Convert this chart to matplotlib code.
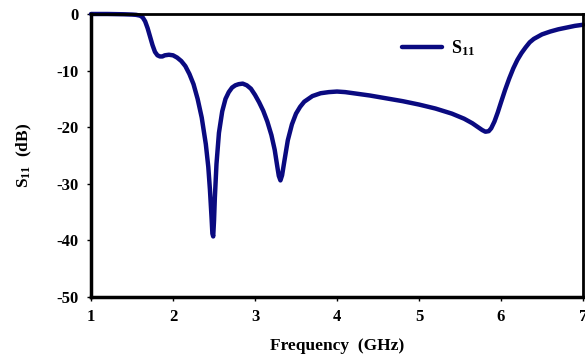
import matplotlib
matplotlib.use('Agg')
import matplotlib.pyplot as plt

# S11 readings (GHz, dB)
freq = [1.0, 1.2, 1.4, 1.5, 1.55, 1.6, 1.63, 1.66, 1.69, 1.72, 1.75, 1.78,
        1.81, 1.84, 1.87, 1.9, 1.95, 2.0, 2.05, 2.1, 2.15, 2.2, 2.25, 2.3,
        2.35, 2.4, 2.43, 2.45, 2.47, 2.48, 2.49, 2.5, 2.51, 2.53, 2.56, 2.6,
        2.64, 2.68, 2.72, 2.76, 2.8, 2.85, 2.9, 2.95, 3.0, 3.05, 3.1, 3.15,
        3.2, 3.24, 3.27, 3.29, 3.31, 3.33, 3.36, 3.4, 3.45, 3.5, 3.55, 3.6,
        3.7, 3.8, 3.9, 4.0, 4.1, 4.2, 4.4, 4.6, 4.8, 5.0, 5.2, 5.4, 5.55,
        5.65, 5.72, 5.77, 5.81, 5.85, 5.88, 5.92, 5.96, 6.0, 6.05, 6.1, 6.15,
        6.2, 6.25, 6.3, 6.35, 6.4, 6.5, 6.6, 6.7, 6.8, 6.9, 7.0]
s11 = [0.0, 0.0, -0.05, -0.1, -0.15, -0.3, -0.6, -1.3, -2.5, -4.0, -5.5,
       -6.7, -7.3, -7.5, -7.5, -7.3, -7.2, -7.3, -7.7, -8.3, -9.2, -10.6,
       -12.4, -15.0, -18.3, -23.0, -27.0, -31.0, -36.0, -38.8, -39.3, -36.5,
       -32.5, -26.5, -21.0, -17.2, -15.0, -13.8, -13.0, -12.6, -12.4, -12.3,
       -12.6, -13.2, -14.3, -15.6, -17.1, -19.0, -21.4, -24.0, -26.8, -28.6,
       -29.4, -28.5, -25.8, -22.3, -19.5, -17.6, -16.4, -15.5, -14.5, -14.0,
       -13.8, -13.7, -13.8, -14.0, -14.4, -14.9, -15.4, -16.0, -16.7, -17.6,
       -18.5, -19.3, -20.0, -20.5, -20.8, -20.7, -20.2, -19.0, -17.4, -15.6,
       -13.4, -11.4, -9.6, -8.1, -6.9, -5.9, -5.0, -4.4, -3.6, -3.1, -2.7,
       -2.4, -2.1, -1.9]

xticks = [1, 2, 3, 4, 5, 6, 7]
yticks = [0, -10, -20, -30, -40, -50]

plt.rcParams['font.family'] = ['Liberation Serif', 'DejaVu Serif']
plt.rcParams['font.weight'] = 'bold'
plt.rcParams['mathtext.fontset'] = 'custom'
plt.rcParams['mathtext.rm'] = 'Liberation Serif:bold'
plt.rcParams['mathtext.it'] = 'Liberation Serif:bold'
plt.rcParams['mathtext.default'] = 'rm'

fig = plt.figure(figsize=(5.85, 3.58), dpi=100)
ax = fig.add_axes([0.1556, 0.1704, 0.8410, 0.7905])

ax.plot(freq, s11, color='#0a0a80', lw=3.2, label='S$_{11}$', clip_on=False,
        solid_capstyle='round', solid_joinstyle='round')

ax.set_xlim(1, 7)
ax.set_ylim(-50, 0)
ax.set_xticks(xticks)
ax.set_yticks(yticks)
ax.set_xticklabels([str(t) for t in xticks], fontsize=12, fontweight='bold')
ax.set_yticklabels([str(t) for t in yticks], fontsize=12, fontweight='bold')
ax.tick_params(direction='out', length=3, width=1, pad=6)

ax.spines['left'].set_linewidth(2.5)
ax.spines['bottom'].set_linewidth(2.5)
ax.spines['top'].set_linewidth(2)
ax.spines['right'].set_linewidth(2)

ax.set_xlabel('Frequency  (GHz)', fontsize=12.5, fontweight='bold', labelpad=9)
ax.set_ylabel('S$_{11}$  (dB)', fontsize=12.5, fontweight='bold', labelpad=16)

ax.legend(loc='upper left', bbox_to_anchor=(0.6, 0.97), frameon=False,
          fontsize=13, handlelength=2.2, handletextpad=0.5)

fig.savefig('out.png', dpi=100)
